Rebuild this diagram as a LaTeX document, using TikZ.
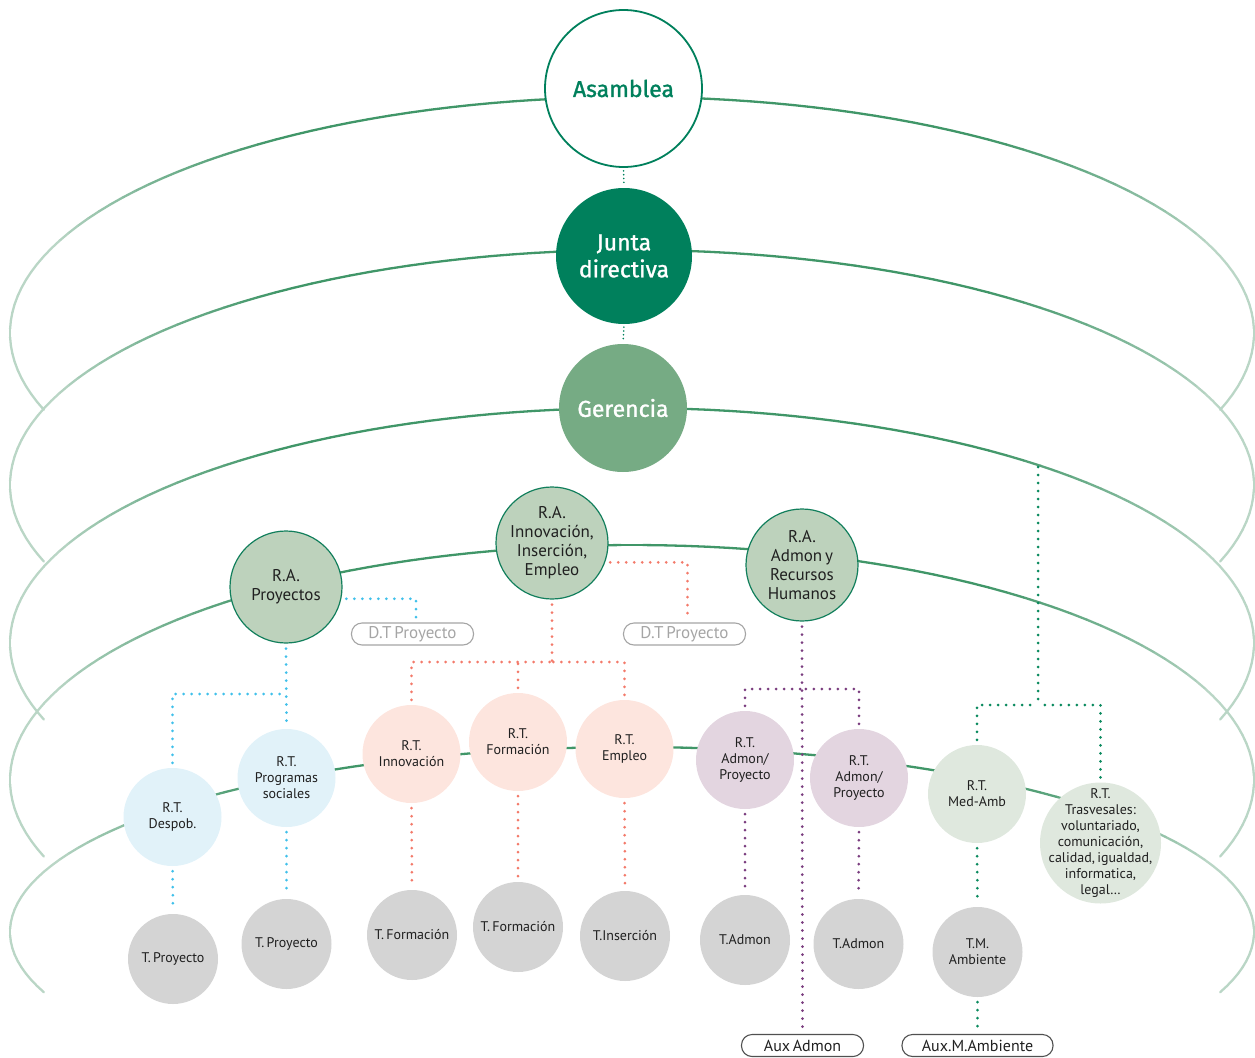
\documentclass[tikz,border=0pt]{standalone}
\usepackage{fontspec}
\setmainfont{PT Sans}
\newfontfamily\titlefont{Fira Sans}[FakeBold=1.2]
\usetikzlibrary{calc}
\pgfdeclarelayer{bg}
\pgfsetlayers{bg,main}
\definecolor{arcdark}{RGB}{64,150,104}
\definecolor{arclight}{RGB}{186,214,198}
\definecolor{jgreen}{RGB}{0,128,92}
\definecolor{ggreen}{RGB}{118,171,132}
\definecolor{rafill}{RGB}{189,210,188}
\definecolor{raborder}{RGB}{18,127,92}
\definecolor{bluefill}{RGB}{225,242,249}
\definecolor{pinkfill}{RGB}{253,229,222}
\definecolor{purplefill}{RGB}{227,213,224}
\definecolor{greenfill}{RGB}{223,232,222}
\definecolor{grayfill}{RGB}{212,212,212}
\definecolor{bluedot}{RGB}{64,192,234}
\definecolor{reddot}{RGB}{243,122,106}
\definecolor{purpledot}{RGB}{122,61,127}
\definecolor{greendot}{RGB}{10,138,94}
\definecolor{txt}{RGB}{32,32,32}
\definecolor{pillgray}{RGB}{165,165,165}
\definecolor{pilldark}{RGB}{80,80,80}
\begin{document}
\begin{tikzpicture}[x=1pt,y=-1pt,
  every node/.style={align=center},
  titlenode/.style={circle, inner sep=-30pt, font=\titlefont\fontsize{23}{27}\selectfont},
  ranode/.style={circle, inner sep=-30pt, minimum size=112pt, fill=rafill, draw=raborder, line width=1.2pt, text=txt, font=\fontsize{17}{19}\selectfont},
  rtnode/.style={circle, inner sep=-30pt, minimum size=98pt, text=txt, font=\fontsize{14}{16}\selectfont},
  tnode/.style={circle, inner sep=-30pt, minimum size=90pt, fill=grayfill, text=txt, font=\fontsize{14}{16}\selectfont},
  pill/.style={rectangle, inner sep=0pt, rounded corners=10.5pt, minimum width=122pt, minimum height=22pt, line width=1.1pt},
  dotline/.style={line width=3pt, line cap=round, dash pattern=on 0pt off 8pt},
  gaps/.style={shorten <=5pt, shorten >=5pt},
  smalldot/.style={line width=1.8pt, line cap=round, dash pattern=on 0pt off 3.8pt, shorten <=3pt, shorten >=3pt, draw=jgreen},
]
\useasboundingbox (0,0) rectangle (1255,1057);

% ---------- main nodes ----------
\node[titlenode, minimum size=157pt, fill=white, draw=jgreen, line width=1.8pt, text=jgreen] (asam) at (623.5,88.5) {Asamblea};
\node[titlenode, minimum size=136pt, fill=jgreen, text=white] (junta) at (624,256) {Junta\\directiva};
\node[titlenode, minimum size=128pt, fill=ggreen, text=white] (ger) at (623,408) {Gerencia};

\node[ranode] (rap) at (286,587) {R.A.\\Proyectos};
\node[ranode] (rai) at (552,543) {R.A.\\Innovación,\\Inserción,\\Empleo};
\node[ranode] (raa) at (802,565) {R.A.\\Admon\,y\\Recursos\\Humanos};

\node[pill, draw=pillgray, text=pillgray, font=\fontsize{17}{19}\selectfont] (dt1) at (412.5,634) {D.T\,Proyecto};
\node[pill, draw=pillgray, text=pillgray, font=\fontsize{17}{19}\selectfont] (dt2) at (684.5,634) {D.T\,Proyecto};
\node[pill, draw=pilldark, text=txt, font=\fontsize{16}{18}\selectfont] (aux1) at (802.5,1045.5) {Aux\,Admon};
\node[pill, draw=pilldark, text=txt, minimum width=151pt, font=\fontsize{16}{18}\selectfont] (aux2) at (977.5,1045.5) {Aux.M.Ambiente};

\node[rtnode, fill=bluefill] (desp) at (172.5,817) {R.T.\\Despob.};
\node[rtnode, fill=bluefill] (prog) at (286.5,778) {R.T.\\Programas\\sociales};
\node[rtnode, fill=pinkfill] (rti) at (411.5,754) {R.T.\\Innovación};
\node[rtnode, fill=pinkfill] (rtf) at (518,742) {R.T.\\Formación};
\node[rtnode, fill=pinkfill] (rte) at (624.5,749) {R.T.\\Empleo};
\node[rtnode, fill=purplefill] (ap1) at (745,760) {R.T.\\Admon/\\Proyecto};
\node[rtnode, fill=purplefill] (ap2) at (859,778) {R.T.\\Admon/\\Proyecto};
\node[rtnode, fill=greenfill] (ma) at (977,794) {R.T.\\Med-Amb};
\node[rtnode, fill=greenfill, minimum size=121pt] (tr) at (1100.5,843) {R.T.\\Trasvesales:\\voluntariado,\\comunicación,\\calidad,\,igualdad,\\informatica,\\legal…};

\node[tnode] (tp1) at (173,959) {T.\,Proyecto};
\node[tnode] (tp2) at (286.5,944) {T.\,Proyecto};
\node[tnode] (tf1) at (412,935) {T.\,Formación};
\node[tnode] (tf2) at (518,927) {T.\,Formación};
\node[tnode] (tins) at (625,936) {T.Inserción};
\node[tnode] (ta1) at (745,940) {T.Admon};
\node[tnode] (ta2) at (858.5,944) {T.Admon};
\node[tnode] (tma) at (977.5,952) {T.M.\\Ambiente};

% junction coordinates
\coordinate (jb) at (286.5,694);
\coordinate (jr) at (552,662);
\coordinate (jp) at (802,689);
\coordinate (gstart) at (1038,467);
\coordinate (jg) at (1038,705);

\begin{pgfonlayer}{bg}
% ---------- arcs ----------
\foreach \cy/\bb in {333/236,485/235,643/235,780/235,932/185}{
  \foreach \a in {-19,-17,...,197}{
    \pgfmathsetmacro\ae{\a+2}
    \pgfmathsetmacro\um{\a+1}
    \pgfmathsetmacro\uu{ifthenelse(\um<90,180-\um,\um)}
    \pgfmathtruncatemacro\pp{max(0,min(100,(158-\uu)*100/33))}
    \draw[line width=2.3pt, line cap=round, color=arcdark!\pp!arclight]
      ({632+622*cos(\a)},{\cy-\bb*sin(\a)}) -- ({632+622*cos(\ae)},{\cy-\bb*sin(\ae)});
  }
}

% ---------- top connectors ----------
\draw[smalldot] (asam.south) -- (junta.north);
\draw[smalldot] (junta.south) -- (ger.north);

% ---------- blue ----------
\draw[dotline, gaps, bluedot] (rap.-12) -| ([xshift=3.5pt]dt1.north);
\draw[dotline, gaps, bluedot] (rap.south) -- (prog.north);
\draw[dotline, shorten <=5pt, bluedot] (desp.north) |- (jb);
\draw[dotline, gaps, bluedot] (desp.south) -- (tp1.north);
\draw[dotline, gaps, bluedot] (prog.south) -- (tp2.north);

% ---------- red ----------
\draw[dotline, gaps, reddot] (rai.-20) -| ([xshift=3pt]dt2.north);
\draw[dotline, shorten <=5pt, reddot] (rai.south) -- (jr);
\draw[dotline, shorten <=5pt, reddot] (rti.north) |- (jr);
\draw[dotline, shorten <=5pt, reddot] (rte.north) |- (jr);
\draw[dotline, shorten <=5pt, reddot] (rtf.north) -- (rtf.north |- jr);
\draw[dotline, gaps, reddot] (rti.south) -- (tf1.north);
\draw[dotline, gaps, reddot] (rtf.south) -- (tf2.north);
\draw[dotline, gaps, reddot] (rte.south) -- (tins.north);

% ---------- purple ----------
\draw[dotline, gaps, purpledot] (raa.south) -- (aux1.north);
\draw[dotline, shorten <=5pt, purpledot] (ap1.north) |- (jp);
\draw[dotline, shorten <=5pt, purpledot] (ap2.north) |- (jp);
\draw[dotline, gaps, purpledot] (ap1.south) -- (ta1.north);
\draw[dotline, gaps, purpledot] (ap2.south) -- (ta2.north);

% ---------- green ----------
\draw[dotline, greendot] (gstart) -- (jg);
\draw[dotline, shorten <=5pt, greendot] (ma.north) |- (jg);
\draw[dotline, shorten <=5pt, greendot] (tr.north) |- (jg);
\draw[dotline, gaps, greendot] (ma.south) -- (tma.north);
\draw[dotline, gaps, greendot] (tma.south) -- (aux2.north);
\end{pgfonlayer}
\end{tikzpicture}
\end{document}
